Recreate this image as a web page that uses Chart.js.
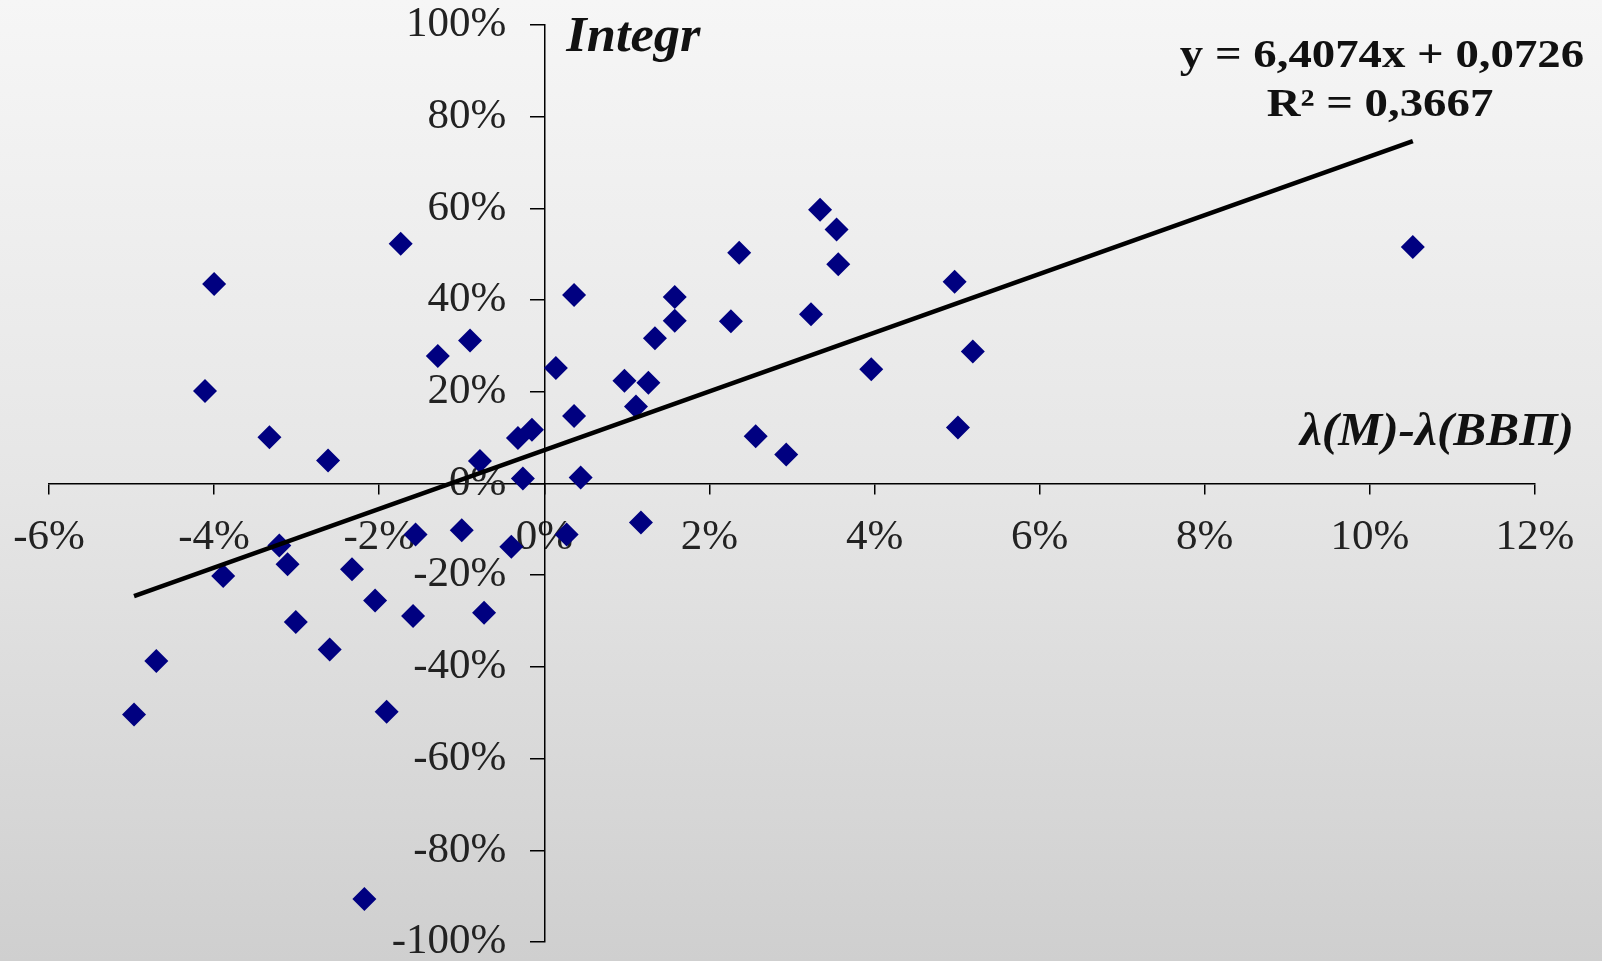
<!DOCTYPE html>
<html>
<head>
<meta charset="utf-8">
<script src="https://cdn.jsdelivr.net/npm/chart.js@4.4.1/dist/chart.umd.min.js"></script>
<style>
  html, body { margin: 0; padding: 0; }
  #wrap {
    width: 1602px; height: 961px;
    background: linear-gradient(to bottom, #f6f6f6 0%, #e6e6e6 50%, #cfcfcf 100%);
  }
</style>
</head>
<body>
<div id="wrap"><canvas id="scatterChart" width="1602" height="961"></canvas></div>
<script>
// values in percent
var xValues = [-4.97, -4.70, -4.11, -4.00, -3.89, -3.33, -3.21, -3.11, -3.01, -2.62,
               -2.60, -2.33, -2.18, -2.05, -1.91, -1.74, -1.59, -1.56, -1.29, -1.00,
               -0.90, -0.78, -0.73, -0.40, -0.32, -0.26, -0.15, 0.14, 0.27, 0.36,
               0.36, 0.44, 0.97, 1.11, 1.17, 1.26, 1.34, 1.58, 1.58, 2.26,
               2.36, 2.56, 2.93, 3.23, 3.34, 3.54, 3.56, 3.96, 4.97, 5.01,
               5.19, 10.52];
var yValues = [-50.4, -38.7, 20.2, 43.5, -20.2, 10.1, -13.5, -17.6, -30.2, 5.0,
               -36.2, -18.7, -90.6, -25.5, -49.8, 52.3, -28.9, -11.1, 27.8, -10.2,
               31.2, 4.9, -28.2, -13.8, 9.9, 1.1, 11.7, 25.2, -11.1, 41.1,
               14.7, 1.3, 22.4, 16.8, -8.5, 22.0, 31.7, 40.7, 35.5, 35.4,
               50.3, 10.3, 6.3, 36.9, 59.7, 55.4, 47.8, 24.9, 44.0, 12.2,
               28.8, 51.6];
var xTickLabels = ['-6%', '-4%', '-2%', '0%', '2%', '4%', '6%', '8%', '10%', '12%'];
var yTickLabels = ['-100%', '-80%', '-60%', '-40%', '-20%', '0%', '20%', '40%', '60%', '80%', '100%'];

// linear trend shown on the chart: y = 6,4074x + 0,0726
var slope = 6.4074;
var intercept = 0.0726;

document.addEventListener("DOMContentLoaded", function () {
    var ctx = document.getElementById('scatterChart').getContext('2d');

    var points = xValues.map(function (x, i) { return { x: x, y: yValues[i] }; });

    // trend line between the smallest and largest x
    var xMin = Math.min.apply(null, xValues);
    var xMax = Math.max.apply(null, xValues);
    var trend = [xMin, xMax].map(function (x) {
        return { x: x, y: (slope * x / 100 + intercept) * 100 };
    });

    var serif = "'Liberation Serif', 'Times New Roman', serif";

    // no extra room for the end labels, the layout padding sets the plot area
    function noPadding(scale) {
        scale.paddingTop = 0;
        scale.paddingBottom = 0;
        scale.paddingLeft = 0;
        scale.paddingRight = 0;
    }

    // y labels of a centred axis get no gap in Chart.js, so move them left
    var yLabelGap = 38;
    var shiftPlugin = {
        id: 'shiftYLabels',
        beforeDraw: function (chart) {
            var items = chart.scales.y.getLabelItems(chart.chartArea);
            if (items._shifted) return;
            items.forEach(function (it) { it.options.translation[0] -= yLabelGap; });
            items._shifted = true;
        }
    };

    // draws equation and axis titles
    var labelsPlugin = {
        id: 'labels',
        afterDraw: function (chart) {
            var c = chart.ctx;
            function txt(s, x, y, font, align, sx) {
                c.save();
                c.font = font;
                c.fillStyle = '#111';
                c.textAlign = align;
                c.textBaseline = 'alphabetic';
                c.translate(x, y);
                c.scale(sx, 1);
                c.fillText(s, 0, 0);
                c.restore();
            }
            var axisX = chart.scales.x.getPixelForValue(0);
            txt('Integr', axisX + 22, 51, 'italic bold 50px ' + serif, 'left', 1.05);
            txt('λ(M)-λ(ВВП)', 1574, 445, 'italic bold 47px ' + serif, 'right', 1.05);
            txt('y = 6,4074x + 0,0726', 1382, 67, 'bold 40px ' + serif, 'center', 1.17);
            txt('R² = 0,3667', 1380, 116, 'bold 40px ' + serif, 'center', 1.17);
        }
    };

    var data = {
        datasets: [{
            label: 'Trend',
            type: 'line',
            data: trend,
            borderColor: '#000',
            borderWidth: 4.5,
            pointRadius: 0,
            fill: false,
            order: 0
        }, {
            label: 'Integr',
            data: points,
            pointStyle: 'rectRot',
            pointRadius: 12,
            pointBackgroundColor: '#000080',
            pointBorderWidth: 0,
            showLine: false,
            order: 1
        }]
    };

    var options = {
        responsive: false,
        animation: false,
        layout: { padding: { left: 49, right: 67, top: 25, bottom: 19 } },
        plugins: {
            legend: { display: false },
            tooltip: { enabled: false }
        },
        scales: {
            x: {
                type: 'linear',
                position: { y: 0 },
                min: -6,
                max: 12,
                afterFit: noPadding,
                ticks: {
                    stepSize: 2,
                    maxRotation: 0,
                    autoSkip: false,
                    padding: 18,
                    color: '#222',
                    font: { family: serif, size: 43 },
                    callback: function (v, i) { return xTickLabels[i]; }
                },
                grid: { drawOnChartArea: false, color: '#000', lineWidth: 1.5, tickLength: 10 },
                border: { color: '#000', width: 1.5 }
            },
            y: {
                type: 'linear',
                position: { x: 0 },
                min: -100,
                max: 100,
                afterFit: noPadding,
                ticks: {
                    stepSize: 20,
                    autoSkip: false,
                    color: '#222',
                    font: { family: serif, size: 43 },
                    callback: function (v, i) { return yTickLabels[i]; }
                },
                grid: { drawOnChartArea: false, color: '#000', lineWidth: 1.5, tickLength: 14 },
                border: { color: '#000', width: 1.5 }
            }
        }
    };

    new Chart(ctx, {
        type: 'scatter',
        data: data,
        options: options,
        plugins: [shiftPlugin, labelsPlugin]
    });
});
</script>
</body>
</html>
